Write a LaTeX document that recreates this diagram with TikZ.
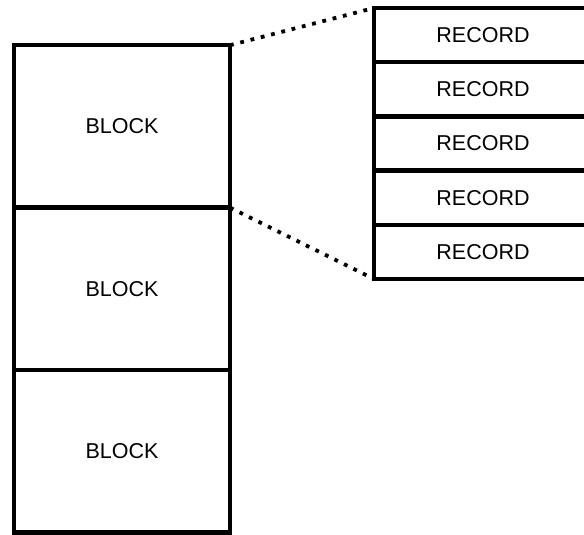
\documentclass[tikz,border=0pt]{standalone}
\usepackage{fontspec}
\setmainfont{Liberation Sans}
\usepackage{tikz}
\usetikzlibrary{positioning}

\begin{document}
\begin{tikzpicture}[x=1pt,y=1pt,
  blockbox/.style={draw, line width=4.4pt, minimum width=216pt, minimum height=162.4pt,
    outer sep=0pt, inner sep=0pt, font=\fontsize{21.5}{24}\selectfont},
  recbox/.style={draw, line width=4.4pt, minimum width=218pt, minimum height=54.2pt,
    outer sep=0pt, inner sep=0pt, font=\fontsize{21.5}{24}\selectfont},
  zoomline/.style={line width=3.8pt, dash pattern=on 3.8pt off 6.8pt}]
\useasboundingbox (0,0) rectangle (584,535);
\clip (0,0) rectangle (584,535);
% the column of blocks
\node[blockbox] (b1) at (122,408.6) {BLOCK};
\node[blockbox, below=0pt of b1] (b2) {BLOCK};
\node[blockbox, below=0pt of b2] (b3) {BLOCK};
% records of the first block
\node[recbox] (r1) at (483,499.9) {RECORD};
\foreach \i [count=\j from 2] in {1,...,4}
  \node[recbox, below=0pt of r\i] (r\j) {RECORD};
% zoom lines
\draw[zoomline] (b1.north east) -- (r1.north west);
\draw[zoomline] (b1.south east) -- (r5.south west);
\end{tikzpicture}
\end{document}
